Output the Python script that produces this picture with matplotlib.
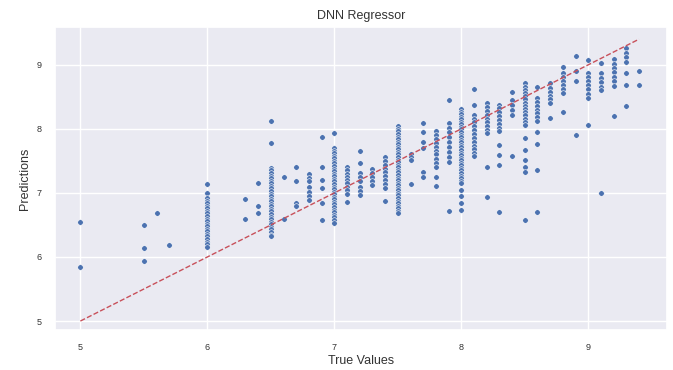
import matplotlib
matplotlib.use("Agg")
import matplotlib.pyplot as plt
import seaborn as sns

# True value of each column and the predictions drawn in it
true_levels = [5.0, 5.5, 5.6, 5.7, 6.0, 6.3, 6.4, 6.5, 6.6, 6.7, 6.8, 6.9,
               7.0, 7.1, 7.2, 7.3, 7.4, 7.5, 7.6, 7.7, 7.8, 7.9,
               8.0, 8.1, 8.2, 8.3, 8.4, 8.5, 8.6, 8.7, 8.8, 8.9,
               9.0, 9.1, 9.2, 9.3, 9.4]

pred_columns = [
    [6.55, 5.84],
    [6.50, 6.14, 5.94],
    [6.69],
    [6.18],
    [7.14, 7.00, 6.92, 6.88, 6.84, 6.80, 6.76, 6.72, 6.68, 6.64, 6.60, 6.56,
     6.52, 6.48, 6.44, 6.40, 6.36, 6.32, 6.28, 6.24, 6.20, 6.16],
    [6.91, 6.60],
    [7.15, 6.79, 6.68],
    [8.13, 7.78, 7.39, 7.35, 7.31, 7.27, 7.23, 7.19, 7.15, 7.11, 7.07, 7.03,
     6.99, 6.95, 6.91, 6.87, 6.83, 6.79, 6.75, 6.71, 6.67, 6.63, 6.59, 6.55,
     6.51, 6.47, 6.43, 6.39, 6.35, 6.33],
    [7.25, 6.59],
    [7.41, 7.19, 6.84, 6.80],
    [7.30, 7.24, 7.18, 7.10, 7.02, 6.95, 6.89],
    [7.88, 7.41, 7.20, 7.08, 6.85, 6.58],
    [7.93, 7.70, 7.66, 7.62, 7.58, 7.54, 7.50, 7.46, 7.42, 7.38, 7.34, 7.30,
     7.26, 7.22, 7.18, 7.14, 7.10, 7.06, 7.02, 6.98, 6.94, 6.90, 6.86, 6.82,
     6.78, 6.74, 6.70, 6.66, 6.62, 6.58, 6.53],
    [7.40, 7.35, 7.30, 7.25, 7.20, 7.15, 7.10, 7.05, 6.99, 6.86],
    [7.66, 7.46, 7.31, 7.25, 7.18, 7.10, 7.03, 6.97],
    [7.37, 7.31, 7.25, 7.18, 7.12],
    [7.56, 7.50, 7.44, 7.38, 7.32, 7.26, 7.20, 7.14, 7.07, 6.88],
    [8.04, 8.00, 7.96, 7.92, 7.88, 7.84, 7.80, 7.76, 7.72, 7.68, 7.64, 7.60,
     7.56, 7.52, 7.48, 7.44, 7.40, 7.36, 7.32, 7.28, 7.24, 7.20, 7.16, 7.12,
     7.08, 7.04, 7.00, 6.96, 6.92, 6.88, 6.84, 6.80, 6.76, 6.72, 6.68],
    [7.61, 7.56, 7.52, 7.14],
    [8.09, 7.95, 7.80, 7.70, 7.33, 7.25],
    [7.96, 7.90, 7.84, 7.78, 7.72, 7.66, 7.60, 7.53, 7.47, 7.41, 7.25, 7.11],
    [8.45, 8.09, 8.02, 7.95, 7.88, 7.80, 7.72, 7.64, 7.56, 7.48, 6.71],
    [8.31, 8.27, 8.23, 8.19, 8.15, 8.11, 8.07, 8.03, 7.99, 7.95, 7.91, 7.87,
     7.83, 7.79, 7.75, 7.71, 7.67, 7.63, 7.59, 7.55, 7.51, 7.47, 7.43, 7.39,
     7.35, 7.31, 7.27, 7.23, 7.19, 7.15, 7.05, 6.95, 6.85, 6.73],
    [8.62, 8.38, 8.22, 8.16, 8.10, 8.04, 7.98, 7.92, 7.86, 7.80, 7.74, 7.68,
     7.62, 7.58],
    [8.40, 8.34, 8.28, 8.22, 8.16, 8.10, 8.04, 7.98, 7.93, 7.41, 6.94],
    [8.38, 8.32, 8.26, 8.20, 8.14, 8.08, 8.02, 7.96, 7.75, 7.59, 7.44, 6.70],
    [8.58, 8.45, 8.38, 8.30, 8.22, 7.57],
    [8.71, 8.66, 8.61, 8.56, 8.51, 8.46, 8.41, 8.36, 8.31, 8.26, 8.21, 8.16,
     8.11, 8.06, 7.85, 7.67, 7.52, 7.40, 7.33, 6.58],
    [8.65, 8.48, 8.42, 8.36, 8.30, 8.24, 8.18, 8.12, 7.95, 7.77, 7.36, 6.70],
    [8.71, 8.64, 8.58, 8.52, 8.46, 8.40, 8.17],
    [8.96, 8.87, 8.81, 8.75, 8.69, 8.62, 8.56, 8.27],
    [9.13, 8.90, 8.75, 7.91],
    [9.07, 8.87, 8.81, 8.75, 8.68, 8.62, 8.55, 8.48, 8.06],
    [9.03, 8.87, 8.80, 8.73, 8.66, 8.60, 7.00],
    [9.09, 9.02, 8.95, 8.88, 8.81, 8.74, 8.67, 8.20],
    [9.26, 9.19, 9.12, 9.05, 8.87, 8.69, 8.35],
    [8.90, 8.69],
]

x_ticks = [5, 6, 7, 8, 9]
y_ticks = [5, 6, 7, 8, 9]

true_vals = []
preds = []
for t, col in zip(true_levels, pred_columns):
    for p in col:
        true_vals.append(t)
        preds.append(p)

sns.set_theme(style="darkgrid")
plt.rcParams['font.family'] = ['Liberation Sans', 'DejaVu Sans']

fig = plt.figure(figsize=(6.73, 3.70), dpi=100)
ax = fig.add_axes([55/673, 1-330/370, (667-55)/673, (330-27)/370])

ax.scatter(true_vals, preds, s=16, color="#4c72b0", edgecolor="white",
           linewidth=0.4, zorder=3)
lims = [min(true_vals), max(true_vals)]
ax.plot(lims, lims, linestyle="--", color="#c8505a", lw=1.0, zorder=4)

ax.set_xlim(4.80, 9.62)
ax.set_ylim(4.86, 9.59)
ax.set_xticks(x_ticks)
ax.set_yticks(y_ticks)
ax.tick_params(labelsize=6.5, colors="#333333")
ax.set_title("DNN Regressor", fontsize=9, color="#333333")
ax.set_xlabel("True Values", fontsize=9, color="#333333", labelpad=2)
ax.set_ylabel("Predictions", fontsize=9, color="#333333")

fig.savefig("out.png", dpi=100)
